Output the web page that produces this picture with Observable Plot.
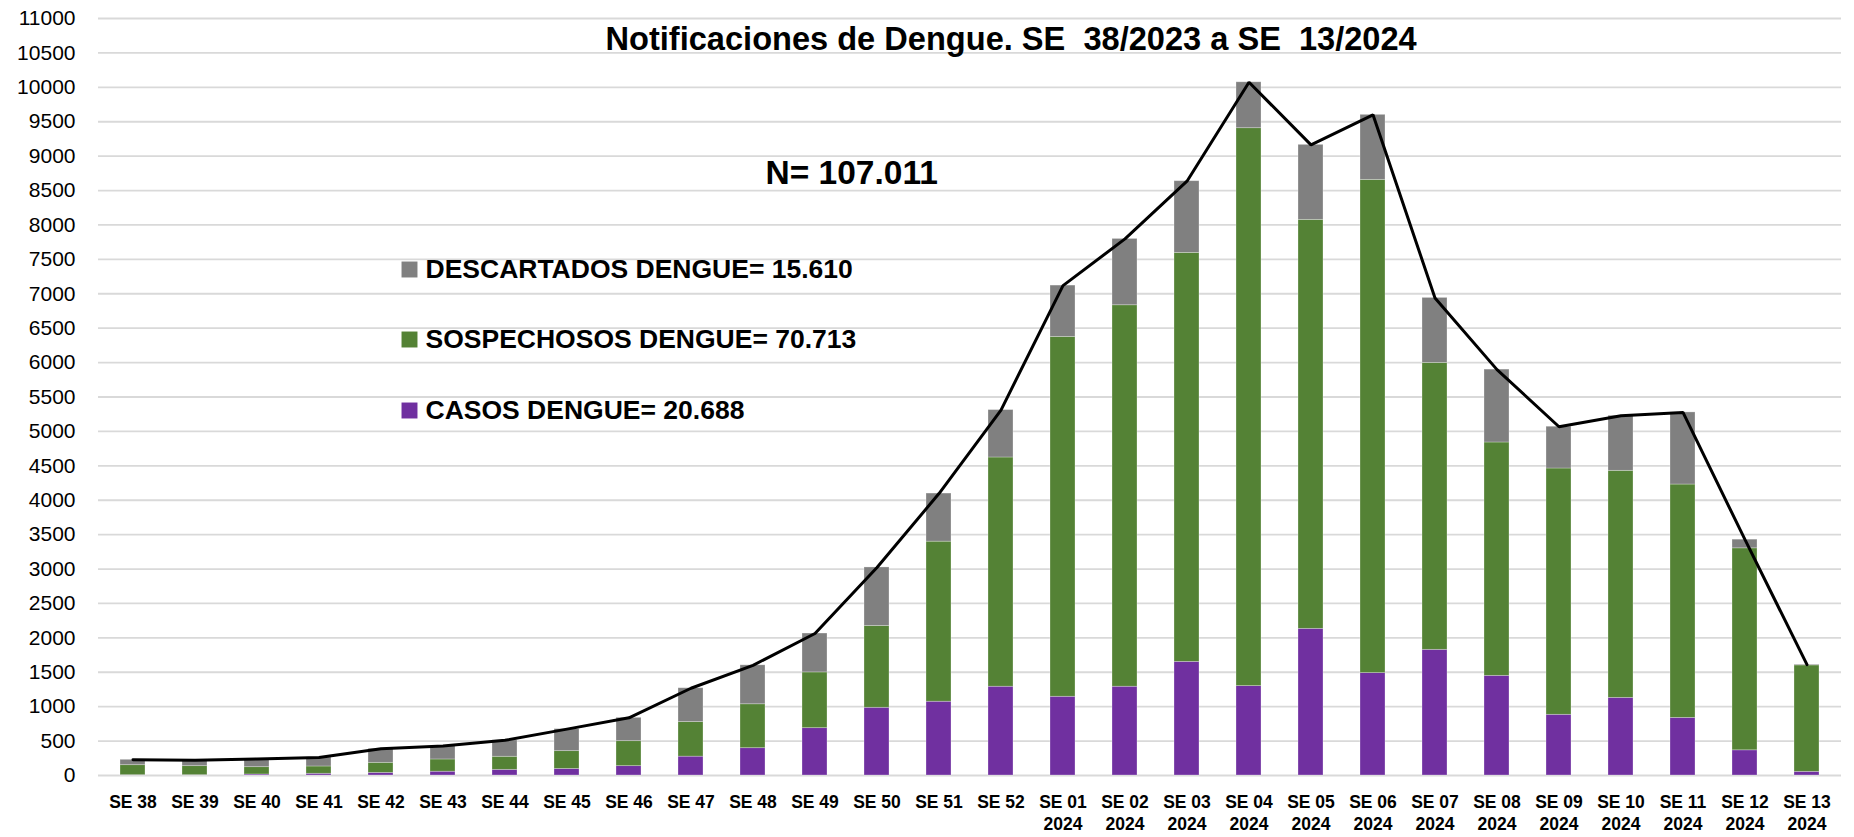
<!DOCTYPE html>
<html>
<head>
<meta charset="utf-8">
<script src="https://cdn.jsdelivr.net/npm/d3@7"></script>
<script src="https://cdn.jsdelivr.net/npm/@observablehq/plot@0.6"></script>
<style>
  html, body { margin: 0; padding: 0; background: #ffffff; }
  #chart { width: 1854px; height: 837px; }
</style>
</head>
<body>
<div id="chart"></div>
<script>
// ---- Data ----
const weeks = [
  "SE 38", "SE 39", "SE 40", "SE 41", "SE 42", "SE 43", "SE 44", "SE 45", "SE 46", "SE 47",
  "SE 48", "SE 49", "SE 50", "SE 51", "SE 52",
  "SE 01\n2024", "SE 02\n2024", "SE 03\n2024", "SE 04\n2024", "SE 05\n2024", "SE 06\n2024",
  "SE 07\n2024", "SE 08\n2024", "SE 09\n2024", "SE 10\n2024", "SE 11\n2024", "SE 12\n2024", "SE 13\n2024"
];
const casos = [
  5, 5, 15, 25, 38, 55, 82, 95, 136, 274,
  397, 688, 984, 1072, 1290,
  1144, 1290, 1651, 1299, 2131, 1488, 1826, 1448, 882, 1128, 837, 366, 53
];
const sospechosos = [
  145, 131, 106, 106, 146, 178, 190, 259, 363, 502,
  638, 810, 1189, 2326, 3331,
  5229, 5543, 5943, 8107, 5943, 7167, 4169, 3391, 3579, 3299, 3391, 2935, 1547
];
const descartados = [
  78, 85, 120, 131, 204, 196, 239, 320, 339, 492,
  566, 565, 850, 699, 689,
  746, 964, 1042, 667, 1090, 945, 945, 1059, 607, 800, 1048, 126, 10
];
const seriesNames = ["CASOS DENGUE", "SOSPECHOSOS DENGUE", "DESCARTADOS DENGUE"];
const seriesColors = ["#7030A0", "#548235", "#808080"];
const legendLabels = ["DESCARTADOS DENGUE= 15.610", "SOSPECHOSOS DENGUE= 70.713", "CASOS DENGUE= 20.688"];
const legendColors = ["#808080", "#548235", "#7030A0"];
const yTicks = d3.range(0, 11001, 500);
const titleText = "Notificaciones de Dengue. SE\u00a0\u00a038/2023 a SE\u00a0\u00a013/2024";
const nText = "N= 107.011";

// ---- Tables built from the arrays ----
const seriesValues = [casos, sospechosos, descartados];
const rows = [];
weeks.forEach((w, i) => {
  seriesNames.forEach((s, k) => rows.push({ week: w, series: s, value: seriesValues[k][i] }));
});
const totals = weeks.map((w, i) => ({ week: w, total: casos[i] + sospechosos[i] + descartados[i] }));

const FONT = "'Liberation Sans', Arial, sans-serif";
const legendDy = [251, 321, 392];

const chart = Plot.plot({
  width: 1854,
  height: 837,
  marginLeft: 98,
  marginRight: 13,
  marginTop: 18,
  marginBottom: 62,
  style: { fontFamily: FONT, background: "#ffffff", color: "#000000" },
  x: { domain: weeks, paddingInner: 0.6, paddingOuter: 0.3, label: null },
  y: { domain: [0, 11000], label: null },
  color: { domain: seriesNames, range: seriesColors },
  marks: [
    Plot.ruleY(yTicks, { stroke: "#d9d9d9", strokeWidth: 1.8 }),
    Plot.barY(rows, {
      x: "week", y: "value", fill: "series",
      stroke: "#ffffff", strokeOpacity: 0.35, strokeWidth: 0.8
    }),
    Plot.line(totals, {
      x: "week", y: "total", stroke: "#000000", strokeWidth: 3,
      strokeLinejoin: "miter", curve: "linear"
    }),
    Plot.axisY(yTicks, {
      tickSize: 0, tickPadding: 23, fontSize: 21, tickFormat: d => String(d), label: null
    }),
    Plot.axisX({
      tickSize: 0, tickPadding: 16, fontSize: 17.5, fontWeight: "bold",
      lineHeight: 1.3, label: null
    }),
    Plot.text([titleText], {
      text: d => d, frameAnchor: "top-left", dx: 507, dy: 21.5,
      textAnchor: "start", lineAnchor: "middle", fontSize: 32.6, fontWeight: "bold", fill: "#000000"
    }),
    Plot.text([nText], {
      text: d => d, frameAnchor: "top-left", dx: 667, dy: 154.5,
      textAnchor: "start", lineAnchor: "middle", fontSize: 33.5, fontWeight: "bold", fill: "#000000"
    }),
    ...legendLabels.map((lab, k) => Plot.dot([lab], {
      frameAnchor: "top-left", dx: 311, dy: legendDy[k], symbol: "square", r: 9,
      fill: legendColors[k], stroke: "none"
    })),
    ...legendLabels.map((lab, k) => Plot.text([lab], {
      text: d => d, frameAnchor: "top-left", dx: 327, dy: legendDy[k],
      textAnchor: "start", lineAnchor: "middle", fontSize: 26.5, fontWeight: "bold", fill: "#000000"
    }))
  ]
});

document.getElementById("chart").appendChild(chart);
</script>
</body>
</html>
